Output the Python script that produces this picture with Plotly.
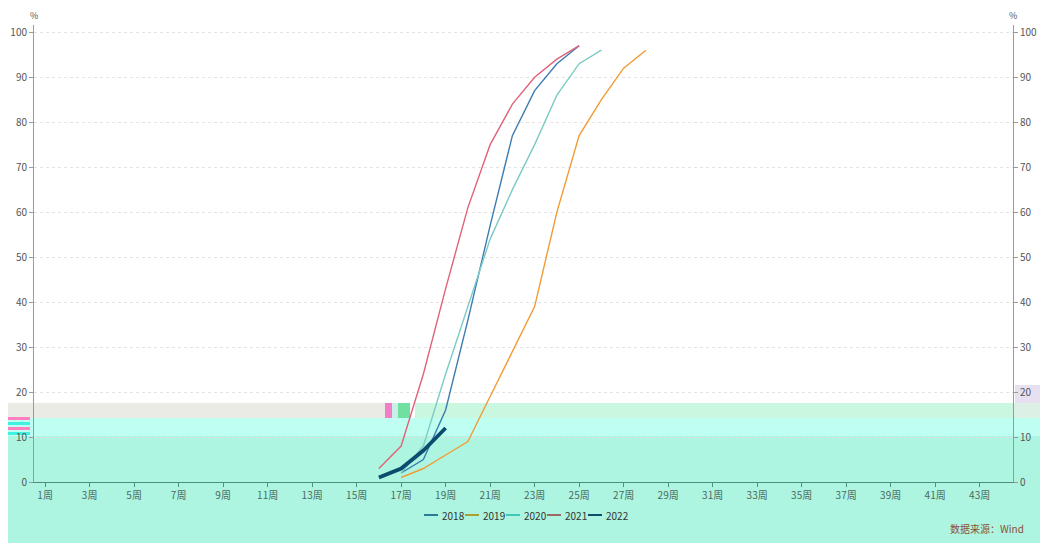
import plotly.graph_objects as go

# ---- data ----
weeks = [f"{i}周" for i in range(1, 45)]
tick_weeks = [f"{i}周" for i in range(1, 44, 2)]
y_ticks = list(range(0, 101, 10))

weeks_2018 = ["17周", "18周", "19周", "20周", "21周", "22周", "23周", "24周", "25周"]
vals_2018 = [2, 5, 16, 36, 57, 77, 87, 93, 97]

weeks_2019 = ["17周", "18周", "19周", "20周", "21周", "22周", "23周", "24周", "25周", "26周", "27周", "28周"]
vals_2019 = [1, 3, 6, 9, 19, 29, 39, 60, 77, 85, 92, 96]

weeks_2020 = ["17周", "18周", "19周", "20周", "21周", "22周", "23周", "24周", "25周", "26周"]
vals_2020 = [2, 8, 24, 39, 54, 65, 75, 86, 93, 96]

weeks_2021 = ["16周", "17周", "18周", "19周", "20周", "21周", "22周", "23周", "24周", "25周"]
vals_2021 = [3, 8, 24, 43, 61, 75, 84, 90, 94, 97]

weeks_2022 = ["16周", "17周", "18周", "19周"]
vals_2022 = [1, 3, 7, 12]

series = [
    ("2018", weeks_2018, vals_2018, "#3d7cb0", 1.4),
    ("2019", weeks_2019, vals_2019, "#f29b35", 1.4),
    ("2020", weeks_2020, vals_2020, "#7ccbc4", 1.4),
    ("2021", weeks_2021, vals_2021, "#e0637a", 1.4),
    ("2022", weeks_2022, vals_2022, "#0b4d6e", 3.8),
]
legend_colors = ["#2a7c96", "#a8a030", "#3fc8b8", "#9a6a62", "#0b4d6e"]

# page offset of the plotly div (body margin)
OFF = 8
W, H = 1051 - OFF, 543 - OFF
L, R, T, B = 34 - OFF, 38, 25 - OFF, 61
pw, ph = W - L - R, H - T - B
PL, PB = 34, 482  # plot-area left / bottom in page pixels

def px(x):
    return (x - PL) / pw

def py(y):
    return (PB - y) / ph

fig = go.Figure()
for name, xs, ys, color, width in series:
    fig.add_trace(go.Scatter(x=xs, y=ys, name=name, mode="lines",
                             showlegend=False,
                             line=dict(color=color, width=width)))
# dummy trace to display right axis
fig.add_trace(go.Scatter(x=[weeks[0]], y=[0], yaxis="y2", mode="lines",
                         showlegend=False, hoverinfo="skip",
                         line=dict(color="rgba(0,0,0,0)")))

font = "Noto Sans CJK SC, Noto Sans, sans-serif"

# background bands (as in the reference picture)
bands = [
    (6, 1040, 436, 543, "#adf5e0"),
    (6, 1040, 418, 436, "#bffff1"),
    (6, 385, 403, 418, "#ebebe6"),
    (415, 1013, 403, 418, "#c9f7e0"),
    (1013, 1040, 403, 418, "#dcf0e6"),
    (385, 392, 403, 418, "#f07fc8"),
    (392, 398, 403, 418, "#c8f0e8"),
    (398, 410, 403, 418, "#70e0a0"),
    (8, 30, 417, 420, "#ff80c0"),
    (8, 30, 422, 425, "#40f0e0"),
    (8, 30, 427, 430, "#ff80c0"),
    (8, 30, 432, 435, "#40f0e0"),
    (1015, 1040, 385, 403, "#e6e0f0"),
]
shapes = []
for x0, x1, y0, y1, c in bands:
    shapes.append(dict(type="rect", xref="paper", yref="paper",
                       x0=px(x0), x1=px(x1), y0=py(y1), y1=py(y0),
                       fillcolor=c, line=dict(width=0), layer="below"))

annotations = [
    dict(text="%", xref="paper", yref="paper", x=px(34), y=py(15),
         xanchor="center", yanchor="middle", borderpad=0,
         showarrow=False, font=dict(family=font, size=9, color="#555555")),
    dict(text="%", xref="paper", yref="paper", x=px(1013), y=py(15),
         xanchor="center", yanchor="middle", borderpad=0,
         showarrow=False, font=dict(family=font, size=9, color="#555555")),
    dict(text="数据来源：Wind", xref="paper", yref="paper",
         x=px(1026), y=py(528), xanchor="right", yanchor="middle",
         showarrow=False,
         font=dict(family=font, size=10, color="#8a4f3c")),
]

# custom compact legend
for i, (name, *_rest) in enumerate(series):
    x0 = 424 + i * 41
    shapes.append(dict(type="line", xref="paper", yref="paper",
                       x0=px(x0), x1=px(x0 + 14), y0=py(515), y1=py(515),
                       line=dict(color=legend_colors[i], width=2)))
    annotations.append(dict(text=name, xref="paper", yref="paper",
                            x=px(x0 + 16), y=py(515), xanchor="left",
                            yanchor="middle", showarrow=False,
                            font=dict(family=font, size=10, color="#333333")))

axis_y = dict(range=[0, 101.6], tickvals=y_ticks, showgrid=True,
              gridcolor="#e4e4e4", griddash="dot", gridwidth=1,
              showline=True, linecolor="#9a9a9a", linewidth=1,
              ticks="outside", ticklen=4, tickcolor="#9a9a9a",
              tickfont=dict(family=font, size=10, color="#555555"),
              zeroline=False, fixedrange=True, automargin=False)

fig.update_layout(
    width=W, height=H,
    margin=dict(l=L, r=R, t=T, b=B),
    paper_bgcolor="white",
    plot_bgcolor="rgba(0,0,0,0)",
    shapes=shapes,
    annotations=annotations,
    xaxis=dict(type="category", categoryorder="array", categoryarray=weeks,
               range=[-0.5, 43.5], tickmode="array", tickvals=tick_weeks,
               ticktext=tick_weeks, showline=True, linecolor="#4f8f80",
               linewidth=1, ticks="outside", ticklen=4, tickcolor="#4f8f80",
               tickfont=dict(family=font, size=10, color="#4a6a60"),
               showgrid=False, zeroline=False, automargin=False),
    yaxis=axis_y,
    yaxis2=dict(axis_y, overlaying="y", side="right", showgrid=False),
    showlegend=False,
)

fig.write_html("out.html")
